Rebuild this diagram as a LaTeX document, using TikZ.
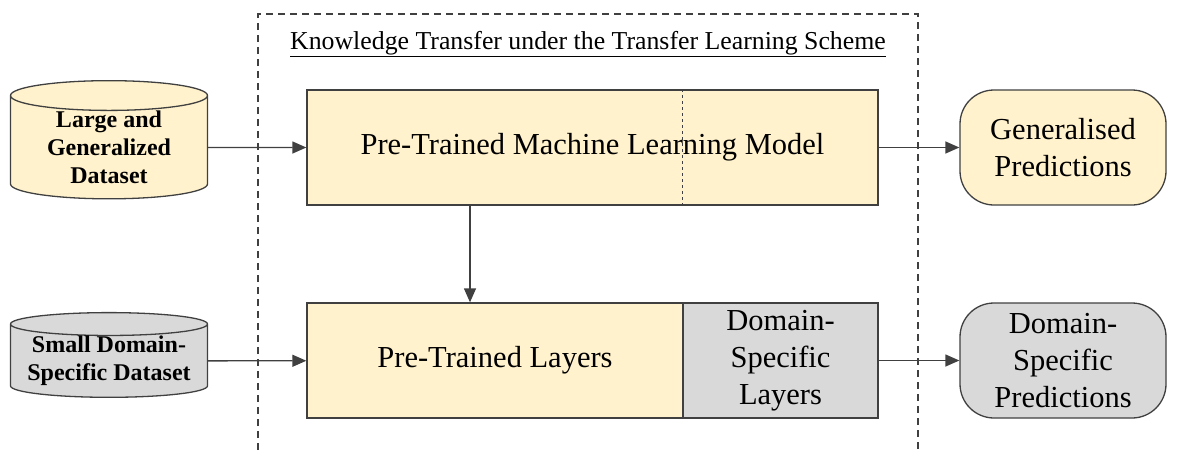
\documentclass[tikz,border=0pt]{standalone}
\usepackage{fontspec}
\setmainfont{Liberation Serif}
\usetikzlibrary{positioning, arrows.meta, shapes.geometric, calc}
\definecolor{gencol}{RGB}{255, 242, 204}
\definecolor{domcol}{RGB}{217, 217, 217}
\definecolor{edgecol}{RGB}{64, 64, 64}

\begin{document}
\begin{tikzpicture}[x=1pt, y=-1pt,
      data/.style={cylinder, shape border rotate=90, draw=edgecol, line width=1.3pt, cylinder uses custom fill,
        minimum width=197pt, align=center, inner sep=0pt, font=\fontsize{24}{28}\selectfont\bfseries},
      model/.style={rectangle, draw=edgecol, line width=1.3pt, fill=gencol, minimum height=115pt, align=center,
        inner sep=0pt, font=\fontsize{30.5}{37}\selectfont},
      pred/.style={rectangle, rounded corners=34pt, draw=edgecol, line width=1.3pt, minimum width=206pt,
        minimum height=115pt, align=center, inner sep=0pt, font=\fontsize{30.5}{37}\selectfont},
      arr/.style={draw=edgecol, line width=1.3pt, -{Triangle[length=14pt, width=12pt]}}]
    \useasboundingbox (0,0) rectangle (1178,450);
    % outer frame, open at the bottom
    \draw[edgecol, line width=1.2pt, dash pattern=on 7pt off 5pt] (258,450) -- (258,14) -- (918,14) -- (918,450);
    \node[font=\fontsize{25.8}{30}\selectfont] (scheme) at (588,44)
      {\underline{Knowledge Transfer under the Transfer Learning Scheme}};
    % inputs
    \node[data, minimum height=115pt, aspect=0.24, cylinder body fill=gencol, cylinder end fill=gencol]
      (large) at (109,147.5) {Large and\\Generalized\\Dataset};
    \node[data, minimum height=72pt, aspect=0.14, cylinder body fill=domcol, cylinder end fill=domcol]
      (small) at (109,361) {Small Domain-\\Specific Dataset};
    % models
    \node[model, minimum width=571pt] (pretrained) at (592.5,147.5) {Pre-Trained Machine Learning Model};
    \node[model, minimum width=376pt] (layers) at (495,360.5) {Pre-Trained Layers};
    \node[model, minimum width=195pt, fill=domcol] (domlayers) at (780.5,360.5) {Domain-\\Specific\\Layers};
    \draw[edgecol, line width=1.2pt, dashed] (pretrained.north -| domlayers.west) -- (pretrained.south -| domlayers.west);
    % outputs
    \node[pred, fill=gencol] (genpred) at (1063,147.5) {Generalised\\Predictions};
    \node[pred, fill=domcol] (dompred) at (1063,360.5) {Domain-\\Specific\\Predictions};
    \draw[arr] (large) -- (pretrained);
    \draw[arr] (small) -- (layers);
    \draw[arr] (pretrained) -- (genpred);
    \draw[arr] (domlayers) -- (dompred);
    \draw[arr] ([xshift=-25pt]pretrained.south -| layers.north) -- ([xshift=-25pt]layers.north);
\end{tikzpicture}
\end{document}
